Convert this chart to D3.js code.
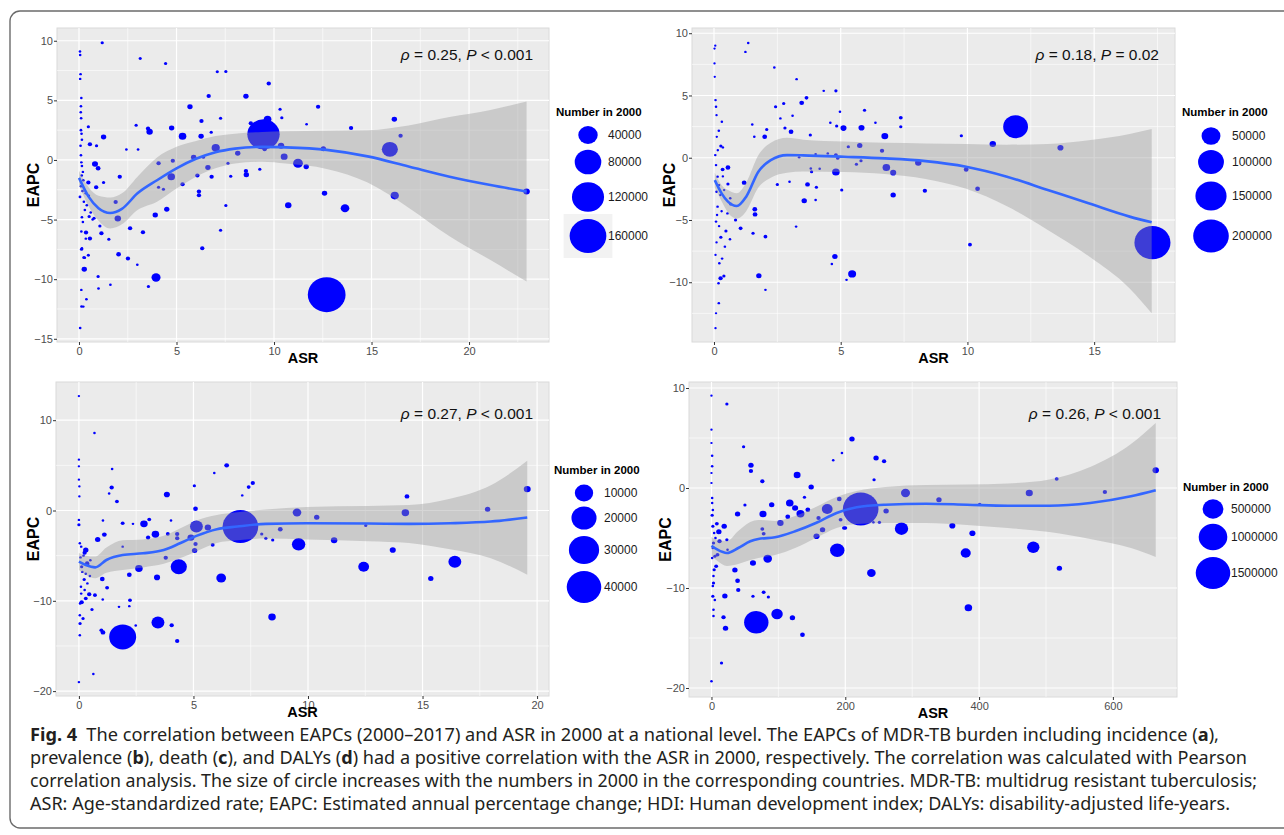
<!DOCTYPE html>
<html>
<head>
<meta charset="utf-8">
<script src="https://cdn.jsdelivr.net/npm/d3@7"></script>
<style>
  html, body { margin: 0; padding: 0; background: #fff; }
  svg { display: block; }
  text { font-family: "Liberation Sans", Arial, sans-serif; }
</style>
</head>
<body>
<svg id="fig" width="1284" height="835"></svg>
<script>
// ---- data: [ASR, EAPC, number in 2000] ----
var incidencePts = [
  [12.7,-11.3,170000],[9.46,2.15,122000],[15.94,0.89,26000],[3.95,-9.86,6400],[13.64,-4.05,5600],
  [16.19,-2.99,4900],[11.23,-0.28,7700],[9.67,3.41,4000],[22.95,-2.65,2500],[7.01,1.03,4900],
  [4.73,-1.4,3900],[5.31,1.98,3900],[10.52,0.28,3000],[10.36,1.2,2500],[10.73,-3.8,2500],
  [12.59,-2.79,1400],[16.17,3.41,1400],[16.49,2.04,625],[12.53,0.95,1400],[13.95,2.68,625],
  [11.65,-0.56,1400],[12.26,4.47,625],[9.73,6.42,625],[8.56,5.34,1400],[6.65,5.36,625],
  [5.69,4.47,1400],[6.28,3.27,625],[6.26,1.98,1400],[6.78,2.32,156],[7.26,3.49,156],
  [7.09,7.4,156],[7.53,7.43,156],[10.31,4.25,156],[10.4,3.55,156],[11.67,2.99,40],
  [8.81,3.07,625],[8.14,0.56,1400],[7.64,-0.28,156],[9.52,0.89,625],[8.58,-1.23,1400],
  [8.56,-0.92,625],[9.27,-0.78,156],[7.78,-1.37,156],[6.8,-1.4,625],[6.61,-0.64,1400],
  [6.38,0.22,156],[5.88,0.22,1400],[6.07,-1.31,625],[6.15,-2.65,625],[6.15,-2.96,625],
  [5.31,-2.04,625],[4.81,-0.06,625],[4.08,-0.28,625],[4.5,-4.13,1400],[3.91,-4.61,1400],
  [4.33,-2.46,156],[4.08,-2.29,156],[4.75,2.68,1400],[3.62,2.37,2500],[3.54,2.65,625],
  [2.93,2.91,156],[3.14,8.52,156],[4.44,8.1,156],[7.53,-3.83,156],[7.26,-5.89,156],
  [6.32,-7.4,625],[3.28,-6.06,625],[2.62,-5.73,625],[2.51,-8.27,625],[2.03,-7.91,900],
  [2.99,-8.8,40],[3.56,-10.61,156],[1.99,-4.92,2500],[1.88,-3.52,625],[2.09,-1.4,625],
  [1.19,9.83,156],[1.26,1.93,1400],[0.82,-0.34,2000],[0.98,-0.7,900],[0.56,1.31,625],
  [0.9,1.2,156],[0.48,2.79,156],[2.43,0.87,40],[3.03,0.87,40],[1.26,-1.9,156],
  [0.88,-2.29,625],[0.48,-1.9,625],[0.27,-9.16,1400],[0.98,-9.78,156],[1.61,-10.47,40],
  [1.0,-10.78,40],[0.38,-11.68,40],[0.13,-12.29,40],[0.06,-14.1,40],[1.53,-6.65,156],
  [1.15,-6.15,625],[1.07,-5.53,156],[0.56,-6.59,625],[0.36,-6.09,625],[0.48,-7.99,156],
  [0.25,-8.18,156],[0.13,-7.49,156],[0.77,-4.89,156],[0.52,-4.75,156],
  [0.05,9.1,30],[0.06,8.8,30],[0.08,7.2,30],[0.06,6.8,30],[0.12,5.2,30],[0.1,4.5,30],
  [0.09,4.0,30],[0.11,3.5,30],[0.1,2.5,60],[0.13,2.2,30],[0.15,1.7,30],[0.08,1.2,30],
  [0.1,0.4,30],[0.12,-0.2,30],[0.15,-0.5,30],[0.2,-1.0,30],[0.14,-1.3,30],[0.22,-1.7,30],
  [0.1,-2.2,30],[0.18,-2.6,30],[0.05,-3.1,60],[0.25,-3.5,30],[0.3,-4.2,30],[0.15,-4.8,30],
  [0.2,-5.2,30],[0.12,-6.0,30],[0.35,-6.6,30],[0.15,-7.4,30],[0.3,-8.2,30],[0.12,-10.9,30],
  [0.22,-12.3,30],[0.4,-3.8,30],[0.5,-3.0,30],[0.6,-4.4,30],[0.35,-2.8,30],[0.7,-5.0,30]
];
var prevalencePts = [
  [17.3,-6.82,205000],[11.9,2.49,91700],[5.45,-9.33,6100],[11.0,1.1,3300],[13.67,0.8,2700],
  [6.74,1.74,4000],[6.8,-0.78,5200],[7.07,-1.2,2700],[7.07,-2.99,1900],[8.06,-0.4,3300],
  [8.32,-2.65,830],[9.95,-0.94,1200],[10.4,-2.49,1200],[10.1,-6.98,530],[9.76,1.76,210],
  [5.82,2.41,2700],[5.11,2.38,2700],[4.84,2.54,210],[4.81,5.37,210],[4.33,5.37,33],
  [3.65,4.81,530],[3.46,4.41,1200],[3.26,6.31,33],[2.38,7.25,33],[2.75,4.36,210],
  [2.43,4.09,210],[2.62,3.16,33],[2.8,2.38,210],[3.04,2.09,1200],[2.0,1.68,1200],
  [2.08,2.27,210],[3.1,3.37,33],[3.8,1.82,210],[5.94,3.82,210],[4.97,3.69,33],
  [4.59,2.81,33],[5.3,0.88,210],[5.75,0.99,1900],[6.63,0.56,830],[7.37,3.21,530],
  [7.37,2.49,210],[6.37,2.81,33],[4.81,0.21,530],[4.88,-0.05,210],[4.81,-1.15,5200],
  [5.04,-2.59,210],[5.8,-0.24,210],[5.62,-0.53,210],[3.69,-2.14,1200],[3.56,-3.45,1900],
  [4.01,-3.4,33],[4.04,-2.38,210],[3.85,-1.12,210],[3.82,-0.86,33],[4.17,-0.88,33],
  [2.98,-1.93,33],[2.5,-2.14,210],[3.24,-5.53,33],[4.77,-7.94,1900],[4.65,-8.53,33],
  [5.23,-9.81,33],[3.36,0.03,33],[4.01,0.29,33],[4.49,0.35,33],[1.59,1.68,33],
  [1.51,2.67,33],[1.19,-2.0,1200],[1.61,-4.14,1200],[1.62,-4.55,1200],[1.54,-6.07,210],
  [2.03,-6.34,530],[1.77,-9.47,1900],[2.03,-10.61,33],[1.35,9.22,33],[1.24,8.5,33],
  [1.05,-5.67,530],[0.85,-5.0,210],[0.55,-0.78,1200],[0.34,-0.94,530],[0.55,-2.11,210],
  [0.64,-3.26,33],[0.66,-3.72,210],[0.53,-4.47,33],[0.47,-5.88,210],[0.63,-6.55,33],
  [0.43,-7.14,33],[0.27,-6.39,210],[0.32,-8.1,33],[0.26,-9.68,830],[0.39,-9.49,210],
  [0.18,-10.08,33],[0.19,-11.68,33],[0.08,-12.49,10],[0.06,-13.69,10],[0.31,2.89,33],
  [0.27,0.94,210],[0.35,0.83,33],[0.19,2.17,33],[0.06,4.63,33],[0.08,4.09,33],
  [0.02,8.77,10],[0.02,7.57,10],[0.03,6.5,10],[0.1,3.42,10],[0.11,1.68,10],
  [0.05,0.21,33],[0.08,-0.59,33],[0.14,-1.52,33],[0.1,-2.73,33],[0.14,-3.93,33],
  [0.08,-5.13,33],[0.06,-7.81,10],[0.21,-8.48,33],[0.2,-2.2,20],[0.25,-3.0,20],
  [0.3,-4.3,20],[0.12,-4.6,20],[0.2,-5.5,20],[0.1,-6.8,20],[0.35,-1.5,20],[0.4,-2.6,20],
  [0.15,0.6,20],[0.05,9.0,10]
];
var deathPts = [
  [7.05,-1.78,42700],[1.91,-14.0,23500],[4.36,-6.22,7500],[3.45,-12.4,4400],[5.13,-1.78,4400],
  [9.59,-3.74,4800],[16.41,-5.67,4400],[12.43,-6.22,2850],[6.21,-7.48,2200],[8.43,-11.78,1100],
  [9.52,-0.22,1600],[14.25,-0.26,1100],[19.57,2.37,860],[17.84,0.15,400],[11.14,-3.3,710],
  [13.7,-4.37,580],[15.36,-7.52,400],[14.32,1.56,256],[10.38,-0.74,400],[12.52,-1.67,45],
  [8.79,-2.07,256],[7.98,-2.59,45],[8.46,-3.26,45],[8.16,-3.07,45],[2.84,-1.48,1100],
  [3.34,-2.63,1100],[2.62,-6.41,1100],[3.41,-7.41,580],[4.89,-3.0,860],[5.05,-4.44,400],
  [5.09,-3.7,178],[5.09,0.19,256],[5.04,2.74,45],[5.84,-3.81,114],[5.63,-1.89,710],
  [6.45,5.0,256],[5.91,4.15,7],[7.41,2.59,114],[7.59,3.04,178],[7.13,1.67,7],
  [3.84,1.78,580],[4.02,-1.11,7],[4.29,-2.59,178],[4.29,-3.07,178],[3.88,-2.59,114],
  [3.07,-1.0,114],[3.02,-3.0,178],[3.79,-5.22,178],[4.05,-12.7,178],[4.29,-14.44,178],
  [2.2,-7.11,256],[2.23,-9.93,114],[2.2,-10.59,7],[1.75,-10.67,7],[2.48,-12.74,7],
  [1.91,-1.41,114],[2.36,-1.48,7],[1.91,-4.0,7],[1.43,2.56,178],[1.32,1.89,7],
  [1.66,1.0,114],[1.45,4.59,7],[0.68,8.59,7],[1.11,-2.67,256],[1.05,-1.11,7],
  [0.82,-3.22,400],[1.02,-7.59,256],[1.23,-8.56,114],[1.04,-9.85,7],[1.05,-13.5,256],
  [0.98,-13.26,114],[0.7,-9.37,114],[0.57,-10.96,45],[0.45,-9.26,178],[0.3,-9.74,114],
  [0.12,-10.15,178],[0.37,-8.07,7],[0.23,-7.63,45],[0.48,-7.26,7],[0.63,-18.1,7],
  [0.0,-19.0,7],[0.3,-4.37,400],[0.25,-4.67,178],[0.36,-5.85,178],[0.12,-6.22,45],
  [0.05,-12.52,45],[0.04,-13.81,7],[0.0,12.67,4],[0.0,5.63,4],[0.0,4.89,4],
  [0.0,3.41,4],[0.02,2.67,4],[0.02,1.56,4],[0.0,-1.04,7],[0.0,-1.59,45],
  [0.04,-3.63,7],[0.07,-5.19,7],[0.09,-8.44,7],[0.05,-10.3,7],[0.04,-11.6,7],
  [0.18,-11.96,45],[0.1,-4.0,7],[0.2,-5.0,7],[0.15,-6.8,7],[0.3,-7.0,7],
  [0.4,-6.0,7],[0.5,-5.5,7],[0.25,-8.8,7],[0.1,-9.2,7]
];
var dalyPts = [
  [223,-2.1,1600000],[67,-13.43,707000],[98,-12.6,123000],[188,-6.23,217000],[284,-4.07,180000],
  [481,-5.93,147000],[380,-6.5,91000],[239,-8.5,60000],[384,-11.97,41700],[290,-0.5,68000],
  [475,-0.5,35000],[664,1.77,26700],[588,-0.4,6700],[516,0.9,4300],[520,-8.03,15000],
  [390,-4.53,21600],[360,-3.77,21600],[340,-1.17,15000],[401,-1.63,1700],[261,-2.3,15000],
  [251,-3.43,1700],[246,3.0,15000],[258,2.67,6700],[210,4.9,15000],[243,0.83,1700],
  [173,-2.1,107000],[133,-2.57,48600],[117,-1.5,41700],[125,-2.0,21600],[128,1.3,32300],
  [149,0.1,15000],[144,-2.17,9600],[139,-0.93,1700],[103,-3.5,26700],[114,-2.87,9600],
  [77,-2.6,35000],[76,0.67,6700],[59,1.7,6700],[59,2.27,15000],[48,4.13,1700],
  [50,-1.7,1700],[39,-2.6,15000],[84,-7.07,60000],[62,-7.5,21600],[35,-8.2,15000],
  [39,-9.27,9600],[40,-10.2,6700],[20,-10.8,15000],[18,-12.93,6700],[21,-14.03,15000],
  [121,-12.97,15000],[136,-14.67,9600],[78,-10.43,4300],[85,-10.9,1700],[62,-10.83,1700],
  [15,-17.5,1700],[0,-19.33,270],[23,8.4,1700],[0,9.23,100],[0,5.83,100],
  [0,4.5,100],[1,3.23,270],[1,2.17,270],[0,1.5,100],[0,0.5,100],
  [1,-1.0,270],[1,-1.5,270],[1,-2.73,1700],[2,-3.83,1700],[3,-5.5,1700],
  [5,-6.83,1700],[4,-8.17,1700],[3,-9.5,1700],[2,-10.83,1700],[3,-12.17,270],
  [11,-4.37,15000],[19,-3.83,15000],[12,-5.33,6700],[8,-3.57,4300],[23,-5.17,1700],
  [7,-7.83,4300],[9,-6.67,4300],[24,-6.17,270],[76,-4.1,4300],[78,-4.57,4300],
  [90,-1.67,15000],[157,-4.83,21600],[166,-4.17,15000],[191,-1.1,9600],[193,-3.17,4300],
  [198,-4.0,4300],[200,-4.0,4300],[195,3.5,270],[182,2.77,270],[242,-3.43,270],
  [160,-3.0,6700],[400,-1.67,270],[2,-6.0,270],[1,-7.0,270],[3,-8.8,270],
  [2,-9.8,270],[5,-11.2,270],[4,-4.5,270],[6,-5.0,270],[2,-2.2,270],[3,-12.8,270]
];

// loess fit + 95% band
var incidenceFitX  = [0, 0.5, 1, 1.6, 2.2, 3, 4, 5, 6, 7, 8, 9.4, 10.6, 12.7, 14.8, 16.9, 19, 21.1, 22.95];
var incidenceFit   = [-1.5, -3.1, -4.05, -4.45, -4.1, -2.8, -1.7, -0.7, 0.1, 0.65, 0.95, 1.1, 1.06, 0.85, 0.3, -0.55, -1.4, -2.1, -2.65];
var incidenceHi    = [-0.9, -2.3, -3.0, -3.15, -2.8, -1.4, 0.2, 1.1, 1.6, 2.0, 2.2, 2.35, 2.4, 2.45, 2.5, 2.9, 3.6, 4.2, 4.9];
var incidenceLo    = [-2.1, -3.9, -5.1, -5.75, -5.4, -4.2, -3.5, -2.4, -1.4, -0.7, -0.3, -0.15, -0.3, -0.75, -1.9, -4.0, -6.4, -8.4, -10.2];

var prevalenceFitX = [0.03, 0.3, 0.55, 0.9, 1.27, 1.75, 2.24, 2.88, 3.52, 5.13, 6.74, 8.35, 9.95, 11.56, 13.17, 14.78, 16.4, 17.27];
var prevalenceFit  = [-1.8, -2.86, -3.53, -3.88, -3.13, -1.12, -0.19, 0.21, 0.19, 0.08, -0.05, -0.27, -0.72, -1.52, -2.59, -3.66, -4.73, -5.19];
var prevalenceHi   = [-1.2, -2.2, -2.6, -2.85, -2.0, 0.2, 1.2, 1.6, 1.45, 1.3, 1.2, 1.15, 1.1, 1.05, 1.1, 1.4, 1.9, 2.3];
var prevalenceLo   = [-2.4, -3.5, -4.4, -4.9, -4.3, -2.4, -1.6, -1.2, -1.1, -1.15, -1.3, -1.7, -2.5, -3.9, -5.8, -7.9, -10.5, -12.5];

var deathFitX = [0, 0.3, 0.71, 1.2, 1.91, 2.8, 3.7, 4.41, 5.13, 6.02, 6.91, 8.16, 9.95, 12.63, 14.41, 16.2, 17.98, 19.57];
var deathFit  = [-5.67, -6.04, -6.3, -5.48, -4.93, -4.74, -4.37, -3.63, -2.81, -2.07, -1.78, -1.48, -1.41, -1.44, -1.48, -1.41, -1.22, -0.78];
var deathHi   = [-4.7, -5.0, -5.1, -4.1, -3.3, -3.2, -2.8, -2.0, -1.1, -0.5, -0.2, 0.1, 0.4, 0.5, 0.6, 1.3, 2.8, 5.5];
var deathLo   = [-6.6, -7.1, -7.5, -6.9, -6.6, -6.3, -5.9, -5.3, -4.5, -3.6, -3.3, -3.1, -3.2, -3.4, -3.6, -4.3, -5.3, -7.1];

var dalyFitX = [0, 9, 23, 40, 58, 70, 95, 125, 156, 187, 217, 260, 321, 382, 443, 505, 566, 627, 664];
var dalyFit  = [-5.77, -6.17, -6.5, -6.0, -5.33, -5.1, -4.93, -4.33, -3.5, -2.5, -1.93, -1.67, -1.57, -1.67, -1.77, -1.77, -1.5, -0.83, -0.23];
var dalyHi   = [-4.9, -5.2, -5.3, -4.3, -3.4, -3.2, -3.3, -2.8, -1.9, -0.9, -0.3, 0.1, 0.3, 0.35, 0.45, 0.85, 2.1, 4.4, 6.5];
var dalyLo   = [-6.8, -7.3, -7.8, -7.6, -7.2, -7.0, -6.7, -6.0, -5.0, -4.0, -3.6, -3.5, -3.5, -3.7, -4.0, -4.4, -5.1, -6.0, -6.9];

// legend breaks
var incidenceLegend  = [40000, 80000, 120000, 160000];
var prevalenceLegend = [50000, 100000, 150000, 200000];
var deathLegend      = [10000, 20000, 30000, 40000];
var dalyLegend       = [500000, 1000000, 1500000];

// correlation labels
var incidenceRho  = ["0.25", "<", "0.001"];
var prevalenceRho = ["0.18", "=", "0.02"];
var deathRho      = ["0.27", "<", "0.001"];
var dalyRho       = ["0.26", "<", "0.001"];

var svg = d3.select("#fig");

// outer figure frame (right edge runs off the page)
svg.append("rect")
    .attr("x", 10).attr("y", 11)
    .attr("width", 1300).attr("height", 817)
    .attr("rx", 10).attr("ry", 10)
    .attr("fill", "none")
    .attr("stroke", "#6b6b6b")
    .attr("stroke-width", 1.4);

var panels = [
  { pts: incidencePts, fx: incidenceFitX, fy: incidenceFit, hi: incidenceHi, lo: incidenceLo,
    legend: incidenceLegend, rho: incidenceRho, nMax: 160000, rMax: 17,
    left: 57, right: 549, top: 28, bottom: 342,
    xDom: [-1.128, 24.1], yDom: [-15.27, 11.07],
    xTicks: [0, 5, 10, 15, 20], yTicks: [-15, -10, -5, 0, 5, 10],
    xMinor: [2.5, 7.5, 12.5, 17.5, 22.5], yMinor: [-12.5, -7.5, -2.5, 2.5, 7.5],
    yTitleX: 39, rhoY: 60,
    leg: { tx: 556, ty: 116, cx: 588, cy: [135, 162, 197, 236], lx: 608, keyBox: 3 } },
  { pts: prevalencePts, fx: prevalenceFitX, fy: prevalenceFit, hi: prevalenceHi, lo: prevalenceLo,
    legend: prevalenceLegend, rho: prevalenceRho, nMax: 200000, rMax: 16.5,
    left: 692, right: 1175, top: 28, bottom: 342,
    xDom: [-0.868, 18.19], yDom: [-14.8, 10.42],
    xTicks: [0, 5, 10, 15], yTicks: [-10, -5, 0, 5, 10],
    xMinor: [2.5, 7.5, 12.5, 17.5], yMinor: [-12.5, -7.5, -2.5, 2.5, 7.5],
    yTitleX: 675, rhoY: 60,
    leg: { tx: 1182, ty: 116, cx: 1211, cy: [136, 162, 196, 236], lx: 1232, keyBox: -1 } },
  { pts: deathPts, fx: deathFitX, fy: deathFit, hi: deathHi, lo: deathLo,
    legend: deathLegend, rho: deathRho, nMax: 40000, rMax: 16,
    left: 56, right: 549, top: 382, bottom: 696,
    xDom: [-1.0, 20.52], yDom: [-20.54, 14.23],
    xTicks: [0, 5, 10, 15, 20], yTicks: [-20, -10, 0, 10],
    xMinor: [2.5, 7.5, 12.5, 17.5], yMinor: [-15, -5, 5],
    yTitleX: 39, rhoY: 419,
    leg: { tx: 554, ty: 474, cx: 584, cy: [493, 518, 550, 587], lx: 604, keyBox: -1 } },
  { pts: dalyPts, fx: dalyFitX, fy: dalyFit, hi: dalyHi, lo: dalyLo,
    legend: dalyLegend, rho: dalyRho, nMax: 1500000, rMax: 16,
    left: 689, right: 1177, top: 382, bottom: 697,
    xDom: [-33.6, 695.8], yDom: [-20.9, 10.6],
    xTicks: [0, 200, 400, 600], yTicks: [-20, -10, 0, 10],
    xMinor: [100, 300, 500], yMinor: [-15, -5, 5],
    yTitleX: 671, rhoY: 419,
    leg: { tx: 1183, ty: 491, cx: 1213, cy: [509, 537, 573], lx: 1231, keyBox: -1 } }
];

panels.forEach(function (p, pi) { drawPanel(p, pi); });

function drawPanel(p, pi)
{
    var x = d3.scaleLinear().domain(p.xDom).range([p.left, p.right]);
    var y = d3.scaleLinear().domain(p.yDom).range([p.bottom, p.top]);
    var r = d3.scaleSqrt().domain([0, p.nMax]).range([1, p.rMax]);
    var stretch = 1.08; // the source figure is a bit wider than tall

    var g = svg.append("g").attr("class", "panel-" + pi);

    var clipId = "clip" + pi;
    g.append("clipPath").attr("id", clipId)
        .append("rect")
        .attr("x", p.left).attr("y", p.top)
        .attr("width", p.right - p.left).attr("height", p.bottom - p.top);

    g.append("rect")
        .attr("x", p.left).attr("y", p.top)
        .attr("width", p.right - p.left).attr("height", p.bottom - p.top)
        .attr("fill", "#ebebeb")
        .attr("stroke", "#dadada");

    // grid: minor first, then major
    var grid = g.append("g").attr("stroke", "#fff");
    grid.selectAll(".vminor").data(p.xMinor).enter().append("line")
        .attr("x1", x).attr("x2", x).attr("y1", p.top).attr("y2", p.bottom)
        .attr("stroke-width", 0.6);
    grid.selectAll(".hminor").data(p.yMinor).enter().append("line")
        .attr("y1", y).attr("y2", y).attr("x1", p.left).attr("x2", p.right)
        .attr("stroke-width", 0.6);
    grid.selectAll(".vmajor").data(p.xTicks).enter().append("line")
        .attr("x1", x).attr("x2", x).attr("y1", p.top).attr("y2", p.bottom)
        .attr("stroke-width", 1.2);
    grid.selectAll(".hmajor").data(p.yTicks).enter().append("line")
        .attr("y1", y).attr("y2", y).attr("x1", p.left).attr("x2", p.right)
        .attr("stroke-width", 1.2);

    var plot = g.append("g").attr("clip-path", "url(#" + clipId + ")");

    plot.append("g").selectAll("ellipse")
        .data(p.pts)
        .enter().append("ellipse")
        .attr("cx", function (d) { return x(d[0]); })
        .attr("cy", function (d) { return y(d[1]); })
        .attr("rx", function (d) { return r(d[2]) * stretch; })
        .attr("ry", function (d) { return r(d[2]); })
        .attr("fill", "#0000ff");

    var fit = p.fx.map(function (v, i) { return { x: v, y: p.fy[i], lo: p.lo[i], hi: p.hi[i] }; });

    var band = d3.area()
        .x(function (d) { return x(d.x); })
        .y0(function (d) { return y(d.lo); })
        .y1(function (d) { return y(d.hi); })
        .curve(d3.curveMonotoneX);
    plot.append("path").datum(fit)
        .attr("d", band)
        .attr("fill", "#999999")
        .attr("fill-opacity", 0.4);

    var line = d3.line()
        .x(function (d) { return x(d.x); })
        .y(function (d) { return y(d.y); })
        .curve(d3.curveMonotoneX);
    plot.append("path").datum(fit)
        .attr("d", line)
        .attr("fill", "none")
        .attr("stroke", "#3366ff")
        .attr("stroke-width", 2.6);

    // axes
    var ax = g.append("g")
        .attr("transform", "translate(0," + p.bottom + ")")
        .call(d3.axisBottom(x).tickValues(p.xTicks).tickSize(3).tickPadding(2));
    var ay = g.append("g")
        .attr("transform", "translate(" + p.left + ",0)")
        .call(d3.axisLeft(y).tickValues(p.yTicks).tickSize(3).tickPadding(1));
    [ax, ay].forEach(function (a) {
        a.select(".domain").remove();
        a.selectAll(".tick line").attr("stroke", "#333");
        a.selectAll(".tick text")
            .attr("fill", "#4d4d4d")
            .style("font-size", "11px")
            .style("font-family", "'Liberation Sans', Arial, sans-serif");
    });

    g.append("text")
        .attr("x", (p.left + p.right) / 2)
        .attr("y", p.bottom + 21)
        .attr("text-anchor", "middle")
        .style("font-size", "14.5px")
        .style("font-weight", "bold")
        .text("ASR");

    g.append("text")
        .attr("transform", "translate(" + p.yTitleX + "," + (p.top + p.bottom) / 2 + ") rotate(-90)")
        .attr("text-anchor", "middle")
        .style("font-size", "16px")
        .style("font-weight", "bold")
        .text("EAPC");

    var rho = g.append("text")
        .attr("x", p.right - 16)
        .attr("y", p.rhoY)
        .attr("text-anchor", "end")
        .style("font-size", "15.5px")
        .attr("fill", "#111");
    rho.append("tspan").style("font-style", "italic").text("\u03c1");
    rho.append("tspan").text(" = " + p.rho[0] + ", ");
    rho.append("tspan").style("font-style", "italic").text("P");
    rho.append("tspan").text(" " + p.rho[1] + " " + p.rho[2]);

    // size legend
    var L = p.leg;
    g.append("text")
        .attr("x", L.tx).attr("y", L.ty)
        .style("font-size", "11.5px")
        .style("font-weight", "bold")
        .text("Number in 2000");

    if (L.keyBox >= 0)
    {
        var kr = r(p.legend[L.keyBox]);
        g.append("rect")
            .attr("x", L.cx - kr * stretch - 6).attr("y", L.cy[L.keyBox] - kr - 5)
            .attr("width", 2 * kr * stretch + 12).attr("height", 2 * kr + 10)
            .attr("fill", "#f2f2f2");
    }

    var keys = g.append("g").selectAll("g")
        .data(p.legend)
        .enter().append("g");
    keys.append("ellipse")
        .attr("cx", L.cx)
        .attr("cy", function (d, i) { return L.cy[i]; })
        .attr("rx", function (d) { return r(d) * stretch; })
        .attr("ry", function (d) { return r(d); })
        .attr("fill", "#0000ff");
    keys.append("text")
        .attr("x", L.lx)
        .attr("y", function (d, i) { return L.cy[i] + 4; })
        .style("font-size", "12px")
        .attr("fill", "#1a1a1a")
        .text(function (d) { return d; });
}

// caption
var capLines = [
  [["Fig. 4", true], ["\u2002The correlation between EAPCs (2000\u20132017) and ASR in 2000 at a national level. The EAPCs of MDR-TB burden including incidence (", false], ["a", true], ["),", false]],
  [["prevalence (", false], ["b", true], ["), death (", false], ["c", true], ["), and DALYs (", false], ["d", true], [") had a positive correlation with the ASR in 2000, respectively. The correlation was calculated with Pearson", false]],
  [["correlation analysis. The size of circle increases with the numbers in 2000 in the corresponding countries. MDR-TB: multidrug resistant tuberculosis;", false]],
  [["ASR: Age-standardized rate; EAPC: Estimated annual percentage change; HDI: Human development index; DALYs: disability-adjusted life-years.", false]]
];
var capWidths = [1189, 1217, 1227, 1200];

var cap = svg.append("g")
    .attr("fill", "#231f20");

cap.selectAll("text")
    .data(capLines)
    .enter().append("text")
    .attr("x", 30)
    .attr("y", function (d, i) { return 741 + i * 23; })
    .attr("textLength", function (d, i) { return capWidths[i]; })
    .attr("lengthAdjust", "spacingAndGlyphs")
    .style("font-family", "'Noto Sans', 'Open Sans', sans-serif")
    .style("font-size", "18px")
    .each(function (parts) {
        var t = d3.select(this);
        parts.forEach(function (pt) {
            t.append("tspan")
                .style("font-weight", pt[1] ? "bold" : "normal")
                .text(pt[0]);
        });
    });
</script>
</body>
</html>
